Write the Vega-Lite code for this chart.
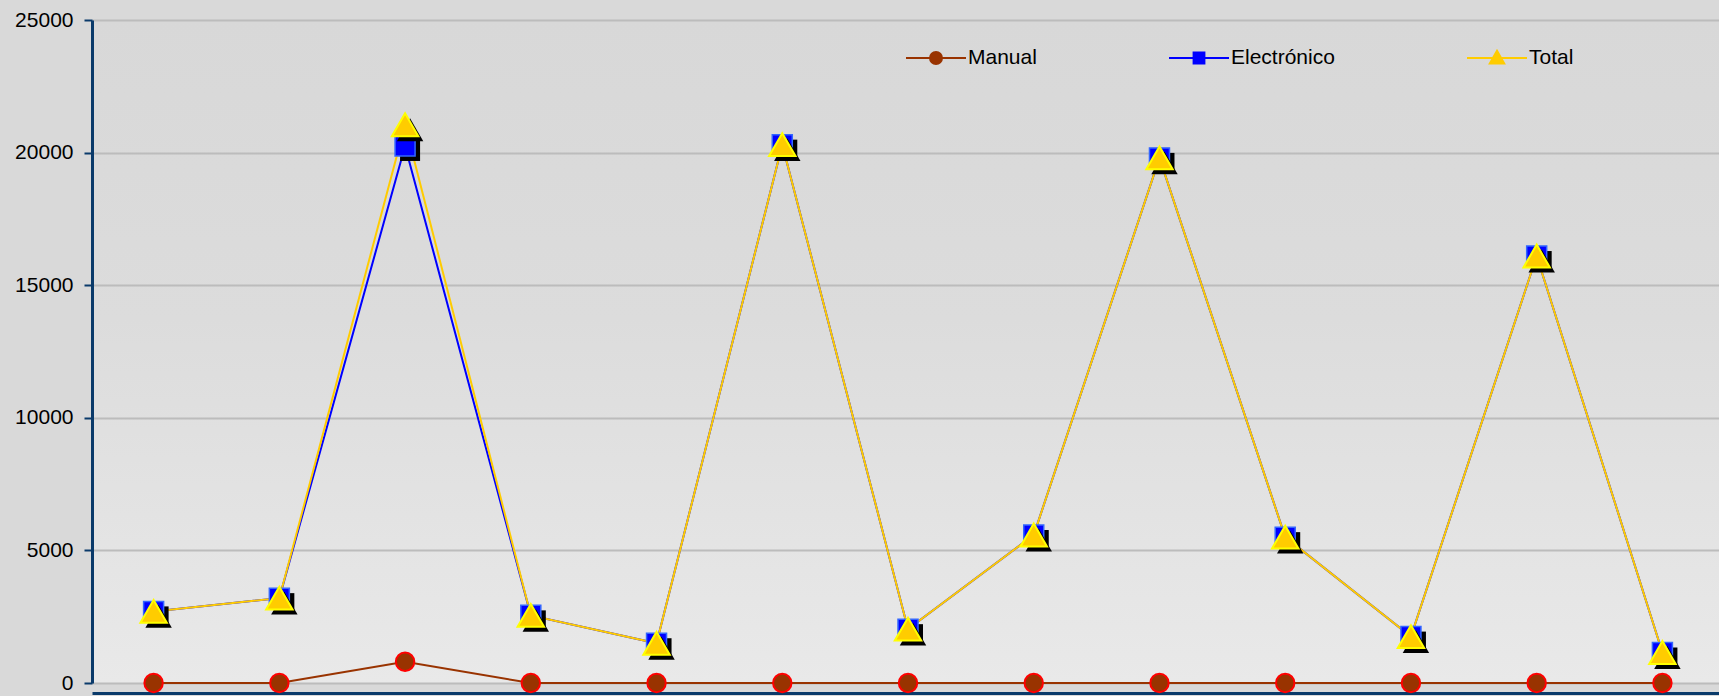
{
  "$schema": "https://vega.github.io/schema/vega-lite/v6.json",
  "width": 1627,
  "height": 663,
  "autosize": {"type": "none"},
  "padding": {"left": 92, "top": 20, "right": 0, "bottom": 13},
  "background": "#d9d9d9",
  "config": {
    "font": "Liberation Sans",
    "legend": {"symbolOpacity": 1},
    "view": {
      "stroke": null,
      "fill": {"gradient": "linear", "x1": 0, "y1": 0, "x2": 0, "y2": 1,
        "stops": [{"offset": 0, "color": "#d8d8d8"}, {"offset": 0.45, "color": "#dcdcdc"}, {"offset": 1, "color": "#e9e9e9"}]}
    }
  },
  "data": {
    "values": [
      {"i": 1, "serie": "Manual", "v": 0},
      {"i": 2, "serie": "Manual", "v": 0},
      {"i": 3, "serie": "Manual", "v": 800},
      {"i": 4, "serie": "Manual", "v": 0},
      {"i": 5, "serie": "Manual", "v": 0},
      {"i": 6, "serie": "Manual", "v": 0},
      {"i": 7, "serie": "Manual", "v": 0},
      {"i": 8, "serie": "Manual", "v": 0},
      {"i": 9, "serie": "Manual", "v": 0},
      {"i": 10, "serie": "Manual", "v": 0},
      {"i": 11, "serie": "Manual", "v": 0},
      {"i": 12, "serie": "Manual", "v": 0},
      {"i": 13, "serie": "Manual", "v": 0},
      {"i": 1, "serie": "Electrónico", "v": 2700},
      {"i": 2, "serie": "Electrónico", "v": 3200},
      {"i": 3, "serie": "Electrónico", "v": 20250},
      {"i": 4, "serie": "Electrónico", "v": 2550},
      {"i": 5, "serie": "Electrónico", "v": 1500},
      {"i": 6, "serie": "Electrónico", "v": 20300},
      {"i": 7, "serie": "Electrónico", "v": 2030},
      {"i": 8, "serie": "Electrónico", "v": 5580},
      {"i": 9, "serie": "Electrónico", "v": 19800},
      {"i": 10, "serie": "Electrónico", "v": 5500},
      {"i": 11, "serie": "Electrónico", "v": 1750},
      {"i": 12, "serie": "Electrónico", "v": 16100},
      {"i": 13, "serie": "Electrónico", "v": 1150},
      {"i": 1, "serie": "Total", "v": 2700},
      {"i": 2, "serie": "Total", "v": 3200},
      {"i": 3, "serie": "Total", "v": 21050},
      {"i": 4, "serie": "Total", "v": 2550},
      {"i": 5, "serie": "Total", "v": 1500},
      {"i": 6, "serie": "Total", "v": 20300},
      {"i": 7, "serie": "Total", "v": 2030},
      {"i": 8, "serie": "Total", "v": 5580},
      {"i": 9, "serie": "Total", "v": 19800},
      {"i": 10, "serie": "Total", "v": 5500},
      {"i": 11, "serie": "Total", "v": 1750},
      {"i": 12, "serie": "Total", "v": 16100},
      {"i": 13, "serie": "Total", "v": 1150}
    ]
  },
  "encoding": {
    "x": {
      "field": "i", "type": "quantitative",
      "scale": {"domain": [0.51, 13.45], "nice": false, "zero": false},
      "axis": {"title": null, "labels": false, "ticks": false, "grid": false, "domainColor": "#0a3a6a", "domainWidth": 3, "offset": 10}
    },
    "y": {
      "field": "v", "type": "quantitative",
      "scale": {"domain": [0, 25000], "nice": false},
      "axis": {
        "title": null, "values": [0, 5000, 10000, 15000, 20000, 25000], "format": "d",
        "labelFont": "Liberation Sans", "labelFontSize": 21, "labelColor": "#000000", "labelPadding": 11,
        "tickSize": 8, "tickColor": "#0a3a6a", "tickWidth": 2,
        "domainColor": "#0a3a6a", "domainWidth": 3,
        "grid": true, "gridColor": "#bcbcbc", "gridWidth": 2
      }
    }
  },
  "layer": [
    {
      "mark": {"type": "point", "filled": true, "opacity": 0},
      "encoding": {
        "fill": {"field": "serie", "type": "nominal", "scale": {"domain": ["Manual", "Electrónico", "Total"], "range": ["#993300", "#0000ff", "#ffcc00"]}},
        "shape": {"field": "serie", "type": "nominal", "scale": {"domain": ["Manual", "Electrónico", "Total"], "range": ["M-1,0H1M-0.2,0A0.2,0.2 0 1,1 0.2,0A0.2,0.2 0 1,1 -0.2,0Z", "M-1,0H1M-0.18,-0.18H0.18V0.18H-0.18Z", "M-1,0H1M0,-0.24L0.24,0.18H-0.24Z"]}}
      }
    },
    {
      "mark": {"type": "line", "strokeWidth": 2},
      "encoding": {
        "stroke": {
          "field": "serie", "type": "nominal",
          "scale": {"domain": ["Manual", "Electrónico", "Total"], "range": ["#993300", "#0000ff", "#ffcc00"]},
          "legend": {
            "title": null, "orient": "none", "legendX": 813, "legendY": 7,
            "direction": "horizontal", "columns": 3, "padding": 0,
            "symbolSize": 3600, "symbolStrokeWidth": 2, "symbolOpacity": 1,
            "labelFont": "Liberation Sans", "labelFontSize": 21, "labelColor": "#000000",
            "labelOffset": 1, "columnPadding": 128
          }
        }
      }
    },
    {
      "transform": [{"filter": "datum.serie === 'Manual'"}],
      "mark": {"type": "point", "filled": true, "shape": "circle", "size": 340, "fill": "#993300", "stroke": "#ff0000", "strokeWidth": 2, "opacity": 1},
      "encoding": {}
    },
    {
      "transform": [{"filter": "datum.serie === 'Electrónico'"}],
      "mark": {"type": "point", "filled": true, "shape": "square", "size": 400, "color": "#000000", "opacity": 1, "xOffset": 5, "yOffset": 5},
      "encoding": {}
    },
    {
      "transform": [{"filter": "datum.serie === 'Electrónico'"}],
      "mark": {"type": "point", "filled": true, "shape": "square", "size": 400, "fill": "#0000ff", "stroke": "#3366ff", "strokeWidth": 1.5, "opacity": 1},
      "encoding": {}
    },
    {
      "transform": [{"filter": "datum.serie === 'Total'"}],
      "mark": {"type": "point", "filled": true, "shape": "triangle-up", "size": 700, "color": "#000000", "opacity": 1, "xOffset": 5, "yOffset": 5},
      "encoding": {}
    },
    {
      "transform": [{"filter": "datum.serie === 'Total'"}],
      "mark": {"type": "point", "filled": true, "shape": "triangle-up", "size": 700, "fill": "#ffcc00", "stroke": "#ffff00", "strokeWidth": 2, "opacity": 1},
      "encoding": {}
    }
  ]
}
